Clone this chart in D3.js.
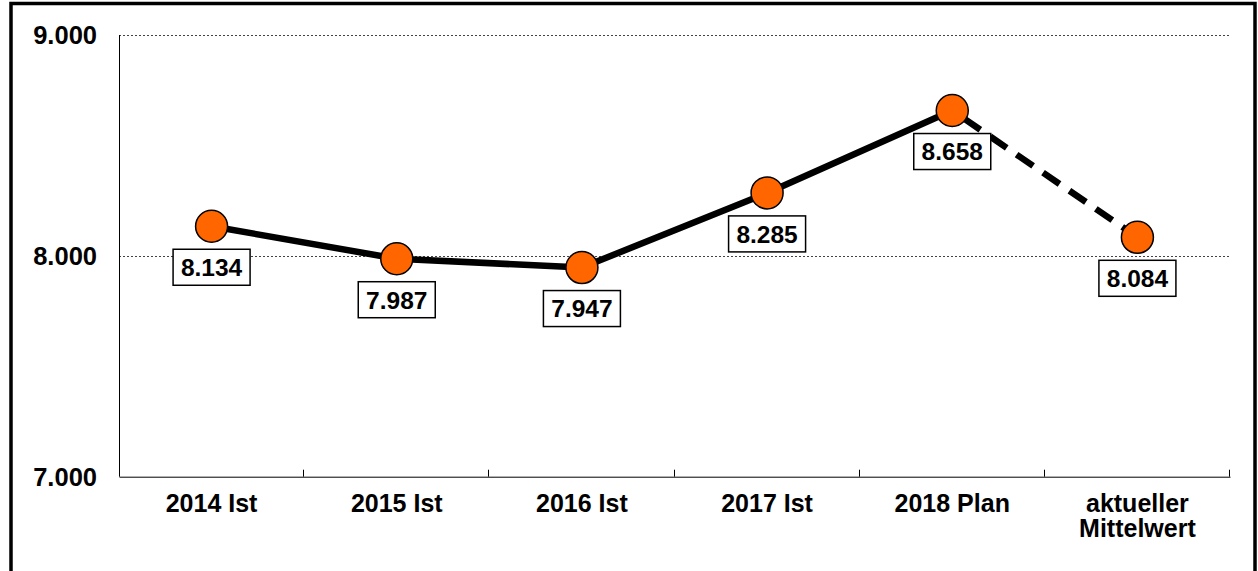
<!DOCTYPE html>
<html>
<head>
<meta charset="utf-8">
<script src="https://cdn.jsdelivr.net/npm/d3@7/dist/d3.min.js"></script>
<style>
  body { margin: 0; background: #fff; }
  svg { display: block; font-family: "Liberation Sans", Arial, sans-serif; font-weight: bold; }
</style>
</head>
<body>
<div id="chart"></div>
<script>
// Werte aus dem Diagramm
var categories = ["2014 Ist", "2015 Ist", "2016 Ist", "2017 Ist", "2018 Plan", "aktueller\nMittelwert"];
var values = [8134, 7987, 7947, 8285, 8658, 8084];
var yTicks = [7000, 8000, 9000];
var gridTicks = [8000, 9000];

var width = 1258, height = 571;
var plotLeft = 119, plotRight = 1230, plotTop = 35, plotBottom = 476.7;

var de = d3.formatLocale({ decimal: ",", thousands: ".", grouping: [3], currency: ["", " €"] });
var fmt = de.format(",d");

var svg = d3.select("#chart")
  .append("svg")
  .attr("width", width)
  .attr("height", height);

var x = d3.scaleBand()
  .domain(categories)
  .range([plotLeft, plotRight])
  .padding(0);

var y = d3.scaleLinear()
  .domain([7000, 9000])
  .range([plotBottom, plotTop]);

function cx(d, i) { return x(categories[i]) + x.bandwidth() / 2; }

// Rahmen
svg.append("rect")
  .attr("x", 11)
  .attr("y", 3.5)
  .attr("width", 1244)
  .attr("height", 640)
  .attr("fill", "none")
  .attr("stroke", "#000")
  .attr("stroke-width", 3.5);

// gepunktete Gitterlinien
svg.selectAll("line.grid")
  .data(gridTicks)
  .enter()
  .append("line")
  .attr("class", "grid")
  .attr("x1", plotLeft)
  .attr("x2", plotRight)
  .attr("y1", function(d){ return Math.round(y(d)) + 0.5; })
  .attr("y2", function(d){ return Math.round(y(d)) + 0.5; })
  .attr("stroke", "#444")
  .attr("stroke-width", 1)
  .attr("stroke-dasharray", "2,2");

// y-Achse
svg.append("line")
  .attr("x1", plotLeft + 0.5).attr("x2", plotLeft + 0.5)
  .attr("y1", plotTop).attr("y2", plotBottom)
  .attr("stroke", "#000");

svg.selectAll("text.ylab")
  .data(yTicks)
  .enter()
  .append("text")
  .attr("class", "ylab")
  .attr("x", 97)
  .attr("y", function(d){ return y(d); })
  .attr("dy", "0.36em")
  .attr("text-anchor", "end")
  .attr("font-size", 25.5)
  .text(function(d){ return fmt(d); });

// x-Achse
var xAxis = d3.axisBottom(x)
  .tickSizeInner(0)
  .tickSizeOuter(0)
  .tickFormat("");
svg.append("g")
  .attr("transform", "translate(0," + plotBottom + ")")
  .call(xAxis)
  .call(function(g){ g.select(".domain").attr("stroke", "#000"); });

// Trennstriche zwischen den Kategorien
var bounds = categories.map(function(c){ return x(c) + x.bandwidth(); });
svg.selectAll("line.sep")
  .data(bounds)
  .enter()
  .append("line")
  .attr("class", "sep")
  .attr("x1", function(d){ return Math.round(d) - 0.5; })
  .attr("x2", function(d){ return Math.round(d) - 0.5; })
  .attr("y1", plotBottom)
  .attr("y2", plotBottom - 7)
  .attr("stroke", "#000");

// Kategorienbeschriftung (mehrzeilig)
var xl = svg.selectAll("text.xlab")
  .data(categories)
  .enter()
  .append("text")
  .attr("class", "xlab")
  .attr("text-anchor", "middle")
  .attr("font-size", 25)
  .attr("x", function(d){ return x(d) + x.bandwidth() / 2; })
  .attr("y", 512);
xl.selectAll("tspan")
  .data(function(d){ return d.split("\n"); })
  .enter()
  .append("tspan")
  .attr("x", function(){ return this.parentNode.getAttribute("x"); })
  .attr("dy", function(d, i){ return i === 0 ? 0 : 24.5; })
  .text(function(d){ return d; });

// Linie: Ist/Plan durchgezogen, Mittelwert gestrichelt
var pts = values.map(function(v, i){ return [cx(v, i), y(v)]; });
var line = d3.line();

svg.append("path")
  .attr("d", line(pts.slice(0, 5)))
  .attr("fill", "none")
  .attr("stroke", "#000")
  .attr("stroke-width", 6.5)
  .attr("stroke-linejoin", "round");

svg.append("path")
  .attr("d", line(pts.slice(4)))
  .attr("fill", "none")
  .attr("stroke", "#000")
  .attr("stroke-width", 6.5)
  .attr("stroke-dasharray", "20,12")
  .attr("stroke-dashoffset", -14);

// Marker
svg.selectAll("circle.pt")
  .data(values)
  .enter()
  .append("circle")
  .attr("class", "pt")
  .attr("cx", cx)
  .attr("cy", function(d){ return y(d); })
  .attr("r", 16)
  .attr("fill", "#ff6600")
  .attr("stroke", "#000")
  .attr("stroke-width", 1.5);

// Datenbeschriftungen in Kästen
var lab = svg.selectAll("g.lab")
  .data(values)
  .enter()
  .append("g")
  .attr("class", "lab")
  .attr("transform", function(d, i){ return "translate(" + cx(d, i) + "," + (y(d) + 41) + ")"; });

lab.append("rect")
  .attr("x", -38.5)
  .attr("y", -18)
  .attr("width", 77)
  .attr("height", 36)
  .attr("fill", "#fff")
  .attr("stroke", "#000")
  .attr("stroke-width", 1.5);

lab.append("text")
  .attr("text-anchor", "middle")
  .attr("dy", "0.36em")
  .attr("font-size", 24.5)
  .text(function(d){ return fmt(d); });
</script>
</body>
</html>
